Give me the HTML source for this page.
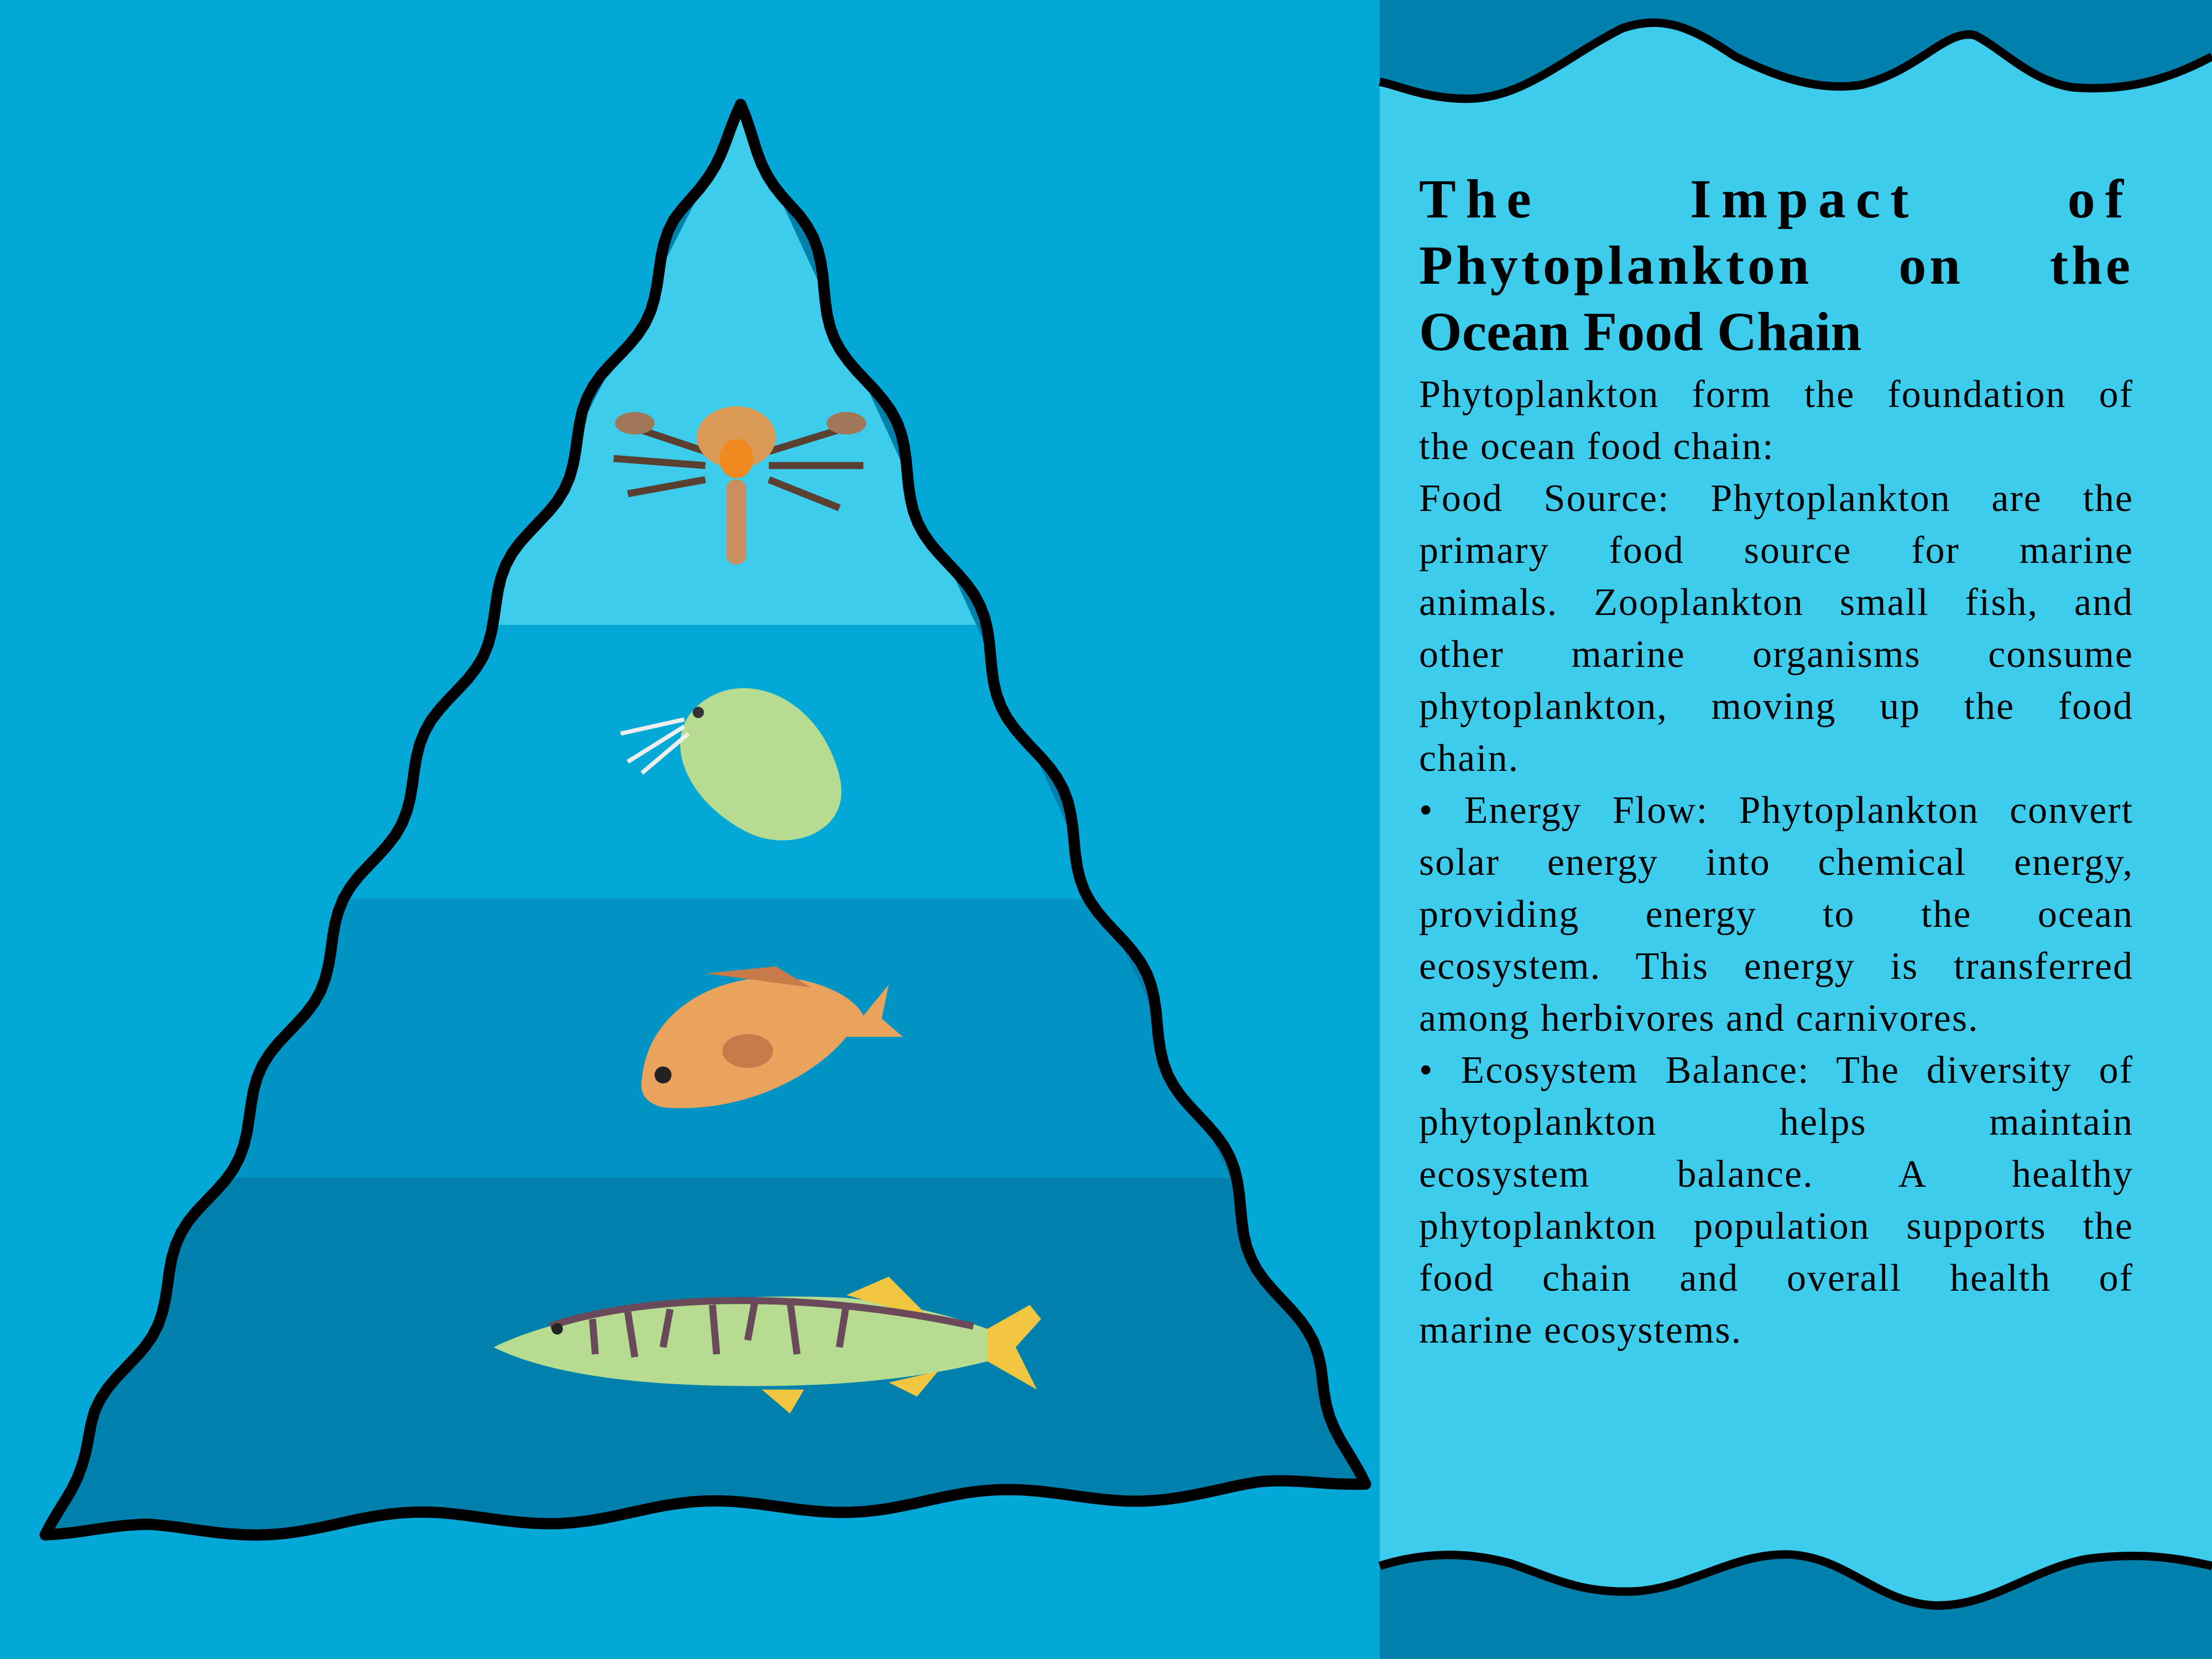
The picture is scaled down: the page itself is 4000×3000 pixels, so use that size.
<!DOCTYPE html>
<html><head><meta charset="utf-8"><style>
html,body{margin:0;padding:0}
body{width:4000px;height:3000px;position:relative;overflow:hidden;background:#03A8D6;font-family:"Liberation Serif",serif}
svg{position:absolute;left:0;top:0}
#title{position:absolute;left:2566px;top:300px;width:1292px;font-weight:bold;font-size:100px;line-height:120px;color:#000}
#title div{text-align:justify;text-align-last:justify;white-space:nowrap}
#title .l1{letter-spacing:18px}
#title .l2{letter-spacing:6px}
#body{position:absolute;left:2566px;top:667px;width:1292px;font-size:70px;line-height:94px;color:#000;letter-spacing:2px}
#body div{white-space:nowrap}
.j{text-align:justify;text-align-last:justify}
</style></head><body>
<svg width="4000" height="3000" viewBox="0 0 1568 1176" preserveAspectRatio="none">
  <defs><clipPath id="tri"><path id="wavyclip"/></clipPath></defs>
  <rect x="978" y="0" width="590" height="1176" fill="#3ECCEC"/>
  <path d="M978,0 L1568,0 L1568,40 C1540,55 1510,65 1470,62 C1440,58 1420,35 1400,25 C1380,20 1360,50 1320,60 C1290,65 1260,55 1230,40 C1200,20 1180,10 1150,20 C1110,40 1080,70 1040,70 C1010,70 990,60 978,58 Z" fill="#0080AD"/>
  <path d="M1568,40 C1540,55 1510,65 1470,62 C1440,58 1420,35 1400,25 C1380,20 1360,50 1320,60 C1290,65 1260,55 1230,40 C1200,20 1180,10 1150,20 C1110,40 1080,70 1040,70 C1010,70 990,60 978,58" fill="none" stroke="#000" stroke-width="6"/>
  <path d="M978,1110 C1010,1100 1040,1100 1070,1108 C1100,1118 1120,1130 1160,1128 C1200,1125 1230,1100 1270,1102 C1310,1105 1330,1135 1370,1138 C1410,1140 1440,1112 1480,1105 C1520,1100 1545,1105 1568,1110 L1568,1176 L978,1176 Z" fill="#0080AD"/>
  <path d="M978,1110 C1010,1100 1040,1100 1070,1108 C1100,1118 1120,1130 1160,1128 C1200,1125 1230,1100 1270,1102 C1310,1105 1330,1135 1370,1138 C1410,1140 1440,1112 1480,1105 C1520,1100 1545,1105 1568,1110" fill="none" stroke="#000" stroke-width="6"/>
  <g clip-path="url(#tri)">
    <rect x="0" y="0" width="1000" height="1176" fill="#0080AD"/>
    <g>
      <polygon points="525,80 340,443 692,443" fill="#3ECCEC"/>
      <polygon points="340,443 692,443 780,637 240,637" fill="#03A8D6"/>
      <polygon points="240,637 780,637 872,835 140,835" fill="#0094C4"/>
      <polygon points="140,835 872,835 990,1120 0,1120" fill="#0080AD"/>
    </g>
  </g>
  <path id="outline" fill="none" stroke="#000" stroke-width="8" stroke-linejoin="round"/>
  <g>
    <path d="M500,320 L440,300 M500,330 L435,325 M500,340 L445,350 M545,320 L610,300 M545,330 L612,330 M545,340 L595,360" stroke="#5a4030" stroke-width="5" fill="none"/>
    <ellipse cx="522" cy="310" rx="28" ry="22" fill="#d99a55"/>
    <ellipse cx="522" cy="325" rx="12" ry="14" fill="#f08a20"/>
    <rect x="515" y="340" width="14" height="60" rx="6" fill="#c89060"/>
    <ellipse cx="450" cy="300" rx="14" ry="8" fill="#a07858"/>
    <ellipse cx="600" cy="300" rx="14" ry="8" fill="#a07858"/>
  </g>
  <g>
    <path d="M490,505 C520,470 580,490 595,550 C605,590 560,605 530,590 C490,570 470,530 490,505 Z" fill="#b5dc90"/>
    <path d="M485,510 L440,520 M485,515 L445,540 M488,520 L455,548" stroke="#eee" stroke-width="3"/>
    <circle cx="495" cy="505" r="4" fill="#333"/>
  </g>
  <g>
    <path d="M455,765 C460,710 520,685 570,695 C600,702 610,715 612,720 L630,698 L625,722 L640,735 L600,735 C580,760 530,790 470,785 C458,782 453,775 455,765 Z" fill="#e9a35c"/>
    <path d="M500,690 L550,685 L575,700 Z" fill="#c77b4a"/>
    <ellipse cx="530" cy="745" rx="18" ry="12" fill="#c77b4a"/>
    <circle cx="470" cy="762" r="6" fill="#222"/>
  </g>
  <g>
    <path d="M350,955 C400,930 500,915 600,920 C650,925 680,935 700,942 L730,925 L720,955 L735,985 L700,965 C660,975 600,985 500,982 C430,980 380,970 350,955 Z" fill="#b5dc90"/>
    <path d="M600,918 L630,905 L660,935 Z M540,985 L560,1002 L570,985 Z M630,980 L650,990 L665,972 Z" fill="#f0c640"/>
    <path d="M700,942 L730,925 L738,935 L720,955 L735,985 L700,965 Z" fill="#f0c640"/>
    <path d="M390,940 C450,920 560,912 690,940" stroke="#6a4a5a" stroke-width="5" fill="none"/>
    <path d="M420,935 L422,960 M445,930 L450,962 M475,928 L470,955 M505,925 L508,960 M535,923 L530,950 M560,922 L565,960 M600,924 L595,955" stroke="#6a4a5a" stroke-width="5"/>
    <circle cx="395" cy="942" r="4" fill="#222"/>
  </g>
</svg>
<div id="title">
  <div class="l1">The Impact of</div>
  <div class="l2">Phytoplankton on the</div>
  <div style="text-align:left;text-align-last:left">Ocean Food Chain</div>
</div>
<div id="body">
  <div class="j">Phytoplankton form the foundation of</div>
  <div>the ocean food chain:</div>
  <div class="j">Food Source: Phytoplankton are the</div>
  <div class="j">primary food source for marine</div>
  <div class="j">animals. Zooplankton small fish, and</div>
  <div class="j">other marine organisms consume</div>
  <div class="j">phytoplankton, moving up the food</div>
  <div>chain.</div>
  <div class="j">• Energy Flow: Phytoplankton convert</div>
  <div class="j">solar energy into chemical energy,</div>
  <div class="j">providing energy to the ocean</div>
  <div class="j">ecosystem. This energy is transferred</div>
  <div>among herbivores and carnivores.</div>
  <div class="j">• Ecosystem Balance: The diversity of</div>
  <div class="j">phytoplankton helps maintain</div>
  <div class="j">ecosystem balance. A healthy</div>
  <div class="j">phytoplankton population supports the</div>
  <div class="j">food chain and overall health of</div>
  <div>marine ecosystems.</div>
</div>
<script>
var V=[[525,74],[32,1088],[968,1052]];
var pts=[];
function edge(a,b,n,amp,f){
  var dx=b[0]-a[0],dy=b[1]-a[1],L=Math.hypot(dx,dy),nx=dy/L,ny=-dx/L;
  for(var i=0;i<n;i++){var t=i/n;var o=amp*Math.sin(t*Math.PI*f)*Math.min(1,Math.sin(t*Math.PI)*4);
    pts.push([a[0]+dx*t+nx*o,a[1]+dy*t+ny*o]);}
}
edge(V[0],V[1],120,7,17);
edge(V[1],V[2],100,6,9);
edge(V[2],V[0],120,8,15);
var d='M'+pts.map(function(p){return p[0].toFixed(1)+','+p[1].toFixed(1);}).join(' L')+' Z';
document.getElementById('outline').setAttribute('d',d);
document.getElementById('wavyclip').setAttribute('d',d);
</script>
</body></html>
